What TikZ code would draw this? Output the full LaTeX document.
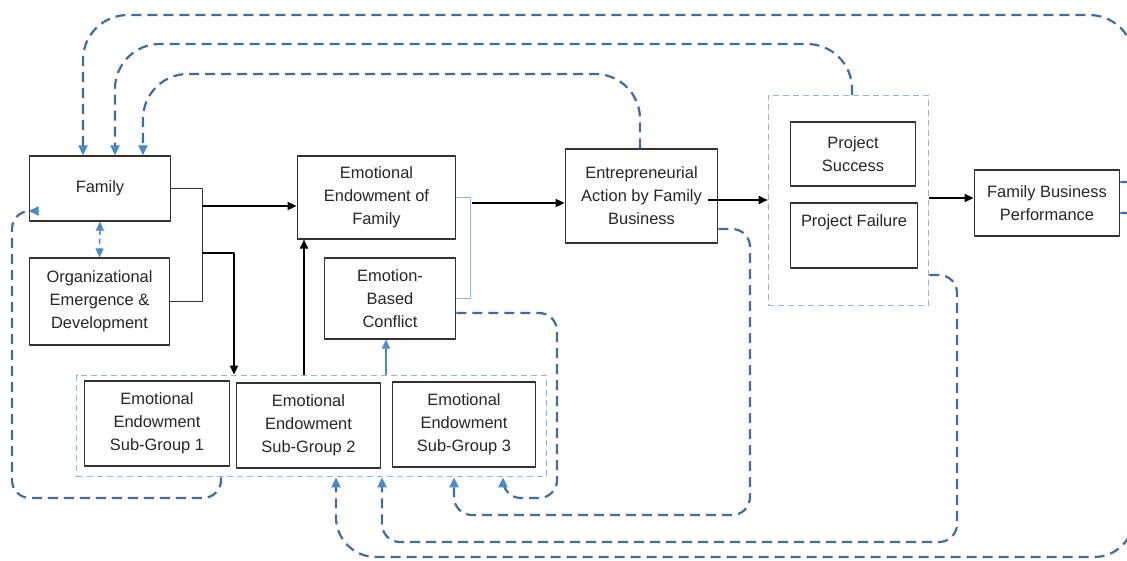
\documentclass[tikz,border=0pt]{standalone}
\usepackage{fontspec}
\setmainfont{Liberation Sans}
\usetikzlibrary{arrows.meta}
\definecolor{fbblue}{RGB}{62,110,160}
\definecolor{tipblue}{RGB}{74,138,203}
\definecolor{grpblue}{RGB}{140,182,225}
\definecolor{boxgray}{RGB}{50,50,50}
\begin{document}
\begin{tikzpicture}[x=1bp,y=-1bp,line join=round,>={Triangle[length=9bp,width=8bp]}]
	\tikzset{every node/.style={font=\fontsize{16.5}{23}\selectfont, text=black!85, align=center, inner sep=0pt},
		box/.style={draw=boxgray, line width=1.4bp},
		grp/.style={draw=grpblue, line width=1.2bp, dash pattern=on 6bp off 4bp},
		flow/.style={->, line width=1.8bp},
		link/.style={draw=boxgray, line width=1.3bp},
		fb/.style={draw=fbblue, line width=2.2bp, dash pattern=on 10bp off 6bp, rounded corners=#1, -{Triangle[length=10bp,width=9bp,color=tipblue]}},
		fb/.default=18}
	\useasboundingbox (0,0) rectangle (1127,561);
	\clip (0,0) rectangle (1127,561);
	% groups
	\node[grp, minimum width=471, minimum height=102] (sgbox) at (311.5,426) {};
	\node[grp, minimum width=161, minimum height=211] (pbox) at (848.5,200.5) {};
	% boxes
	\node[box, minimum width=142, minimum height=65] (fam) at (100,188.5) {Family};
	\node[box, minimum width=141, minimum height=87] (org) at (99.5,301.5) {Organizational\\Emergence \&\\Development};
	\node[box, minimum width=159, minimum height=83] (eef) at (376.5,197.5) {Emotional\\Endowment of\\Family};
	\node[box, minimum width=132, minimum height=81] (ebc) at (390,298.5) {Emotion-\\Based\\Conflict};
	\node[box, minimum width=146, minimum height=85] (sg1) at (157,423.5) {Emotional\\Endowment\\Sub-Group 1};
	\node[box, minimum width=145, minimum height=85] (sg2) at (308.5,425.5) {Emotional\\Endowment\\Sub-Group 2};
	\node[box, minimum width=144, minimum height=85] (sg3) at (464,424.5) {Emotional\\Endowment\\Sub-Group 3};
	\node[box, minimum width=153, minimum height=94] (eafb) at (641.5,196) {Entrepreneurial\\Action by Family\\Business};
	\node[box, minimum width=126, minimum height=64] (ps) at (853,154) {Project\\Success};
	\node[box, minimum width=128, minimum height=65] (pf) at (854,235.5) {Project Failure\\\strut};
	\node[box, minimum width=146, minimum height=66] (fbp) at (1047,203) {Family Business\\Performance};
	% main flow
	\coordinate (j1) at (202,206);
	\coordinate (j2) at (202,253);
	\coordinate (j3) at (234,253);
	\coordinate (e1) at (472,203);
	\draw[link] (fam.east) -- ++(31,0) |- (org.east);
	\draw[flow] (j1) -- (j1 -| eef.west);
	\draw[flow] (j2) -- (j3) -- (j3 |- sgbox.north);
	\draw[flow] (304,0 |- sgbox.north) -- (304,0 |- eef.south);
	\draw[grpblue, line width=1.2bp] (eef.east) -- ++(14,0) |- (ebc.east);
	\draw[flow] (e1) -- (e1 -| eafb.west);
	\draw[flow] ([xshift=-10]eafb.east |- 0,200) -- (pbox.west |- 0,200);
	\draw[flow] (pbox.east |- 0,198) -- (fbp.west |- 0,198);
	\draw[tipblue, line width=1.5bp, ->] (386,0 |- sgbox.north) -- (386,0 |- ebc.south);
	\draw[tipblue, line width=1.5bp, <->, dash pattern=on 5bp off 4bp] (fam.south) -- (org.north);
	% feedback loops
	\draw[fb=4] (fbp.east |- 0,182) -- (1134,182) [rounded corners=45] -- (1134,15) -- (83,15) -- (83,0 |- fam.north);
	\draw[fb=45] (852,0 |- pbox.north) -- (852,44) -- (115,44) -- (115,0 |- fam.north);
	\draw[fb=45] (640,0 |- eafb.north) -- (640,74) -- (143,74) -- (143,0 |- fam.north);
	\draw[fb] (eafb.east |- 0,229) -- (750,229) -- (750,515) -- (454,515) -- (454,0 |- sgbox.south);
	\draw[fb] (pbox.east |- 0,275) -- (957,275) -- (957,542) -- (382,542) -- (382,0 |- sgbox.south);
	\draw[fb=4] (fbp.east |- 0,213) -- (1134,213) [rounded corners=40] -- (1134,557) -- (336,557) -- (336,0 |- sgbox.south);
	\draw[fb] (ebc.east |- 0,313) -- (557,313) -- (557,498) -- (503,498) -- (503,0 |- sgbox.south);
	\draw[fb] (221,0 |- sgbox.south) -- (221,498) -- (12,498) -- (12,211) -- (fam.west |- 0,211);
\end{tikzpicture}
\end{document}
